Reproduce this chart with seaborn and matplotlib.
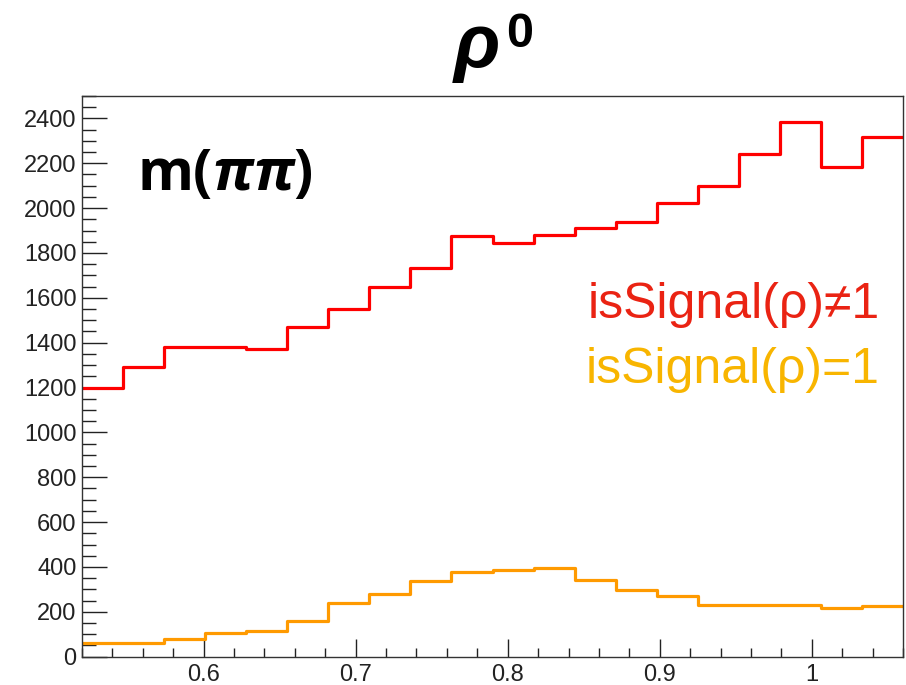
import numpy as np
import pandas as pd
import matplotlib
matplotlib.use("Agg")
import matplotlib.pyplot as plt
import seaborn as sns
from matplotlib.ticker import MultipleLocator, FixedLocator, FixedFormatter

# ---- data ----
x_min, x_max, n_bins = 0.52, 1.06, 20
background = [1200, 1293, 1379, 1379, 1373, 1471, 1550, 1647, 1732, 1877,
              1846, 1880, 1913, 1939, 2024, 2100, 2240, 2383, 2185, 2316]
signal = [60, 60, 80, 107, 115, 159, 238, 278, 336, 376,
          388, 397, 342, 297, 271, 232, 232, 232, 217, 225]
x_ticks = [0.6, 0.7, 0.8, 0.9, 1.0]
x_tick_labels = ["0.6", "0.7", "0.8", "0.9", "1"]
y_ticks = [0, 200, 400, 600, 800, 1000, 1200, 1400, 1600, 1800, 2000, 2200, 2400]
labels = ["isSignal(ρ)≠1", "isSignal(ρ)=1"]

sns.set_theme(style="white")
plt.rcParams['font.family'] = ['Liberation Sans', 'DejaVu Sans']
plt.rcParams['mathtext.fontset'] = 'custom'
plt.rcParams['mathtext.bf'] = 'Open Sans:bold'
plt.rcParams['mathtext.bfit'] = 'Open Sans:bold:italic'
plt.rcParams['mathtext.fallback'] = 'stixsans'

edges = np.linspace(x_min, x_max, n_bins + 1)
centers = (edges[:-1] + edges[1:]) / 2
df = pd.DataFrame({
    "m": np.concatenate([centers, centers]),
    "count": background + signal,
    "cat": ["bkg"] * n_bins + ["sig"] * n_bins,
})

W, H = 906, 685
fig = plt.figure(figsize=(W / 100, H / 100), dpi=100)
ax = fig.add_axes([82 / W, (H - 656.7) / H, (903 - 82) / W, (656.7 - 96) / H])

sns.histplot(data=df, x="m", weights="count", hue="cat",
             bins=n_bins, binrange=(x_min, x_max),
             element="step", fill=False,
             palette={"bkg": "#ff0000", "sig": "#ff9a00"},
             linewidth=2.3, legend=False, ax=ax)

ax.set_xlim(x_min, x_max)
ax.set_ylim(0, 2500)
ax.set_xlabel("")
ax.set_ylabel("")
ax.xaxis.set_major_locator(FixedLocator(x_ticks))
ax.xaxis.set_major_formatter(FixedFormatter(x_tick_labels))
ax.xaxis.set_minor_locator(MultipleLocator(0.02))
ax.yaxis.set_major_locator(FixedLocator(y_ticks))
ax.yaxis.set_minor_locator(MultipleLocator(50))
ax.tick_params(axis="both", which="both", direction="in", colors="#222222",
               labelcolor="#222222", labelsize=17, width=1.0,
               bottom=True, left=True, top=False, right=False)
ax.tick_params(axis="x", which="major", length=13, pad=5)
ax.tick_params(axis="x", which="minor", length=6.5)
ax.tick_params(axis="y", which="major", length=18, pad=4)
ax.tick_params(axis="y", which="minor", length=10)
for sp in ax.spines.values():
    sp.set_color("#333333")
    sp.set_linewidth(1.0)
    sp.set_visible(True)

# title rho^0
fig.text(454 / W, 1 - 67 / H, "ρ", fontsize=55, fontweight="bold", style="italic",
         family=["Liberation Sans", "DejaVu Sans"], ha="left", va="baseline", color="black")
fig.text(506 / W, 1 - 47 / H, "0", fontsize=35, fontweight="bold",
         family=["Liberation Sans", "DejaVu Sans"], ha="left", va="baseline", color="black")

# m(pipi)
ax.text(0.067, 0.833, r"$\mathbf{m(}\mathbfit{\pi\pi}\mathbf{)}$", transform=ax.transAxes,
        fontsize=41, ha="left", va="baseline", color="black")

# legend text
ax.text((880 - 82) / (903 - 82), (656.7 - 318) / (656.7 - 96), labels[0],
        transform=ax.transAxes, fontsize=36, color="#ea2313", ha="right", va="baseline")
ax.text((880 - 82) / (903 - 82), (656.7 - 383) / (656.7 - 96), labels[1],
        transform=ax.transAxes, fontsize=36, color="#f8b500", ha="right", va="baseline")

fig.savefig("out.png", dpi=100, facecolor="white")
